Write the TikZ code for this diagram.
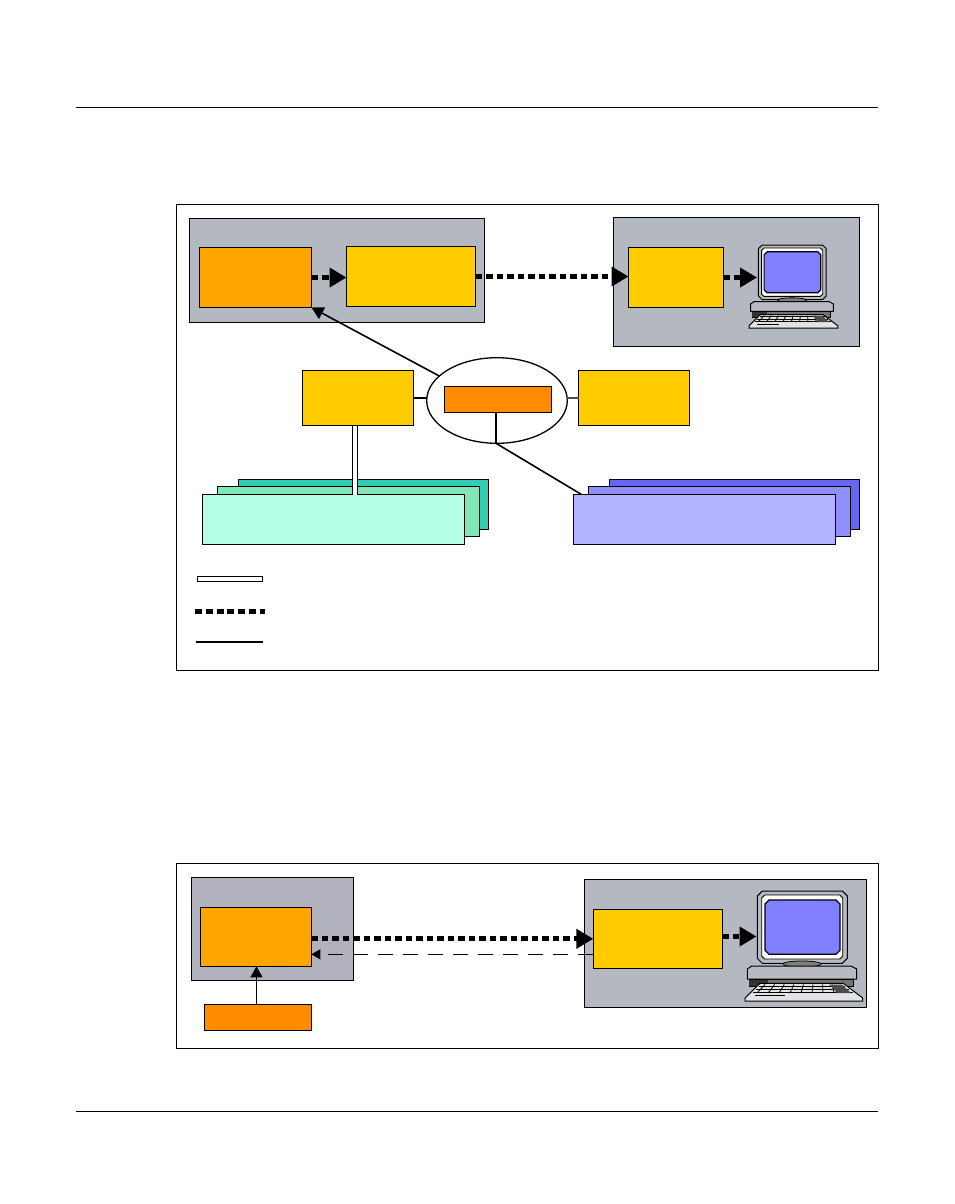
\documentclass[tikz,border=0pt]{standalone}
\usetikzlibrary{arrows.meta,shapes.geometric}
\definecolor{hostgray}{RGB}{180,184,192}
\definecolor{hostgraytwo}{RGB}{178,178,190}
\definecolor{amberfill}{RGB}{255,165,0}
\definecolor{goldfill}{RGB}{255,204,0}
\definecolor{darkorange}{RGB}{255,140,0}
\definecolor{tealback}{RGB}{51,204,181}
\definecolor{tealmid}{RGB}{128,232,184}
\definecolor{tealfront}{RGB}{179,255,230}
\definecolor{blueback}{RGB}{102,102,240}
\definecolor{bluemid}{RGB}{143,143,250}
\definecolor{bluefront}{RGB}{179,179,255}
\definecolor{screenblue}{RGB}{128,128,255}
\definecolor{casegray}{RGB}{184,186,194}
\tikzset{
	blockbox/.style={draw=black, rectangle, anchor=north west, inner sep=0pt, outer sep=0pt, line width=1pt},
	sized/.style 2 args={minimum width=#1pt, minimum height=#2pt},
	streamline/.style={line width=5pt, dash pattern=on 6.5pt off 4pt, -{Triangle[length=17pt, width=19pt]}},
	legendstream/.style={line width=5pt, dash pattern=on 7pt off 3.8pt},
	ctrlline/.style={line width=1.6pt},
	pics/desktopmachine/.style={code={
		\draw[fill=casegray, line width=1pt] (17.3,0) -- (97.3,0) -- (102.3,5) -- (102.3,67.3) -- (97.3,72.3) -- (17.3,72.3) -- (12.3,67.3) -- (12.3,5) -- cycle;
		\draw[fill=white, line width=0.9pt] (19.7,4) -- (94.7,4) -- (97.7,7) -- (97.7,65) -- (94.7,68) -- (19.7,68) -- (16.7,65) -- (16.7,7) -- cycle;
		\draw[fill=screenblue, line width=1.2pt] (24,9) -- (91,9) -- (95,13) -- (95,59.3) -- (91,63.3) -- (24,63.3) -- (20,59.3) -- (20,13) -- cycle;
		\draw[fill=gray, line width=0.8pt] (57,73) ellipse (19 and 3);
		\draw[fill=casegray, line width=1pt] (6.7,75) -- (106,75) -- (111.7,78) -- (111.7,88) -- (2.3,88) -- (2.3,78) -- cycle;
		\draw[fill=black!55, line width=0.9pt] (4.3,88) rectangle (108.3,95.7);
		\fill[black!80] (4.3,89) rectangle (23.3,94.7);
		\draw[fill=casegray!40, line width=1pt] (15,92.3) -- (98.3,92.3) -- (117.7,107) -- (117.7,110) -- (0,110) -- (0,107) -- cycle;
		\foreach \r/\a/\b in {95/14/100, 98/11/104, 101/8/108}
			\draw[line width=0.8pt] (\a,\r) -- (\b,\r);
		\foreach \k in {0,...,7}
			\draw[line width=0.8pt] ({20+\k*9.6},93.5) -- ({12+\k*11},102);
		\fill[black!70] (84,93.5) -- (97,93.5) -- (106,102) -- (92,102) -- cycle;
		\draw[line width=1pt] (10,104.7) -- (40,104.7);
	}}
}
\begin{document}
\begin{tikzpicture}[x=1pt, y=-1pt]
	\useasboundingbox (0,0) rectangle (954,1204);
	\draw[line width=0.8pt] (76,107.5) -- (878,107.5);
	\draw[line width=0.8pt] (76,1111.5) -- (878,1111.5);

	\node[blockbox, sized={702}{465.5}] (upperframe) at (176.5,204.5) {};
	\node[blockbox, sized={702}{185}] (lowerframe) at (176.5,863.5) {};

	\node[blockbox, fill=hostgray, sized={295}{104}] (srchost) at (189.5,218.5) {};
	\node[blockbox, fill=amberfill, sized={112}{60}] (srcbox) at (199.5,247.5) {};
	\node[blockbox, fill=goldfill, sized={129}{60}] (convbox) at (346.5,246.5) {};
	\node[blockbox, fill=hostgray, sized={246}{129}] (viewhost) at (613.5,217.5) {};
	\node[blockbox, fill=goldfill, sized={95}{60}] (viewbox) at (628.5,247.5) {};
	\pic[scale=0.755] at (749,245) {desktopmachine};
	\coordinate (viewtip) at (757,277.5);

	\draw[streamline] (srcbox.east) -- (srcbox.east -| convbox.west);
	\draw[streamline] (convbox.east) -- (convbox.east -| viewbox.west);
	\draw[streamline] (viewbox.east) -- (viewtip);

	\foreach \nm/\xp/\yp/\bw/\cl in {tback/238.5/479.5/250/tealback, tmid/217.5/486.5/262/tealmid, tfront/202.5/494.5/262/tealfront, bback/609.5/479.5/250/blueback, bmid/588.5/486.5/262/bluemid, bfront/573.5/494.5/262/bluefront}
		\node[blockbox, fill=\cl, sized={\bw}{50}] (\nm) at (\xp,\yp) {};

	\node[blockbox, fill=goldfill, sized={111}{55}] (cfgleft) at (302.5,370.5) {};
	\node[blockbox, fill=goldfill, sized={111}{55}] (cfgright) at (578.5,370.5) {};
	\node[draw=black, ellipse, line width=1.3pt, inner sep=0pt, outer sep=0pt, minimum width=140.6pt, minimum height=85.6pt] (ring) at (497,400.5) {};
	\node[blockbox, fill=darkorange, sized={107.5}{26}] (hub) at (444.3,386.3) {};

	\draw[ctrlline] (cfgleft.east) -- (cfgleft.east -| ring.west);
	\draw[line width=1.3pt, black!70] (cfgright.west) -- (cfgright.west -| ring.east);
	\draw[line width=2pt] ([xshift=-1pt]ring.south) -- ([xshift=-1pt]ring.south |- hub.south);
	\draw[ctrlline, -{Triangle[length=12pt, width=13pt]}] (ring.157) -- (srcbox.south east);
	\draw[ctrlline] ([xshift=-1pt]ring.south) -- ([xshift=8pt]bfront.north west);
	\draw[line width=1pt, double=white, double distance=3.5pt] ([xshift=-2.8pt]cfgleft.south) -- ([xshift=-2.8pt]cfgleft.south |- tfront.north);

	\node[blockbox, fill=white, sized={65.5}{5.5}] (legendbar) at (197.3,576.3) {};
	\coordinate (legendstreama) at (195,611);
	\coordinate (legendstreamb) at (265,611);
	\coordinate (legendctrla) at (196,642);
	\coordinate (legendctrlb) at (263,642);
	\draw[legendstream] (legendstreama) -- (legendstreamb);
	\draw[line width=2pt] (legendctrla) -- (legendctrlb);

	\node[blockbox, fill=hostgraytwo, sized={162}{103}] (lowhost) at (191.3,877.3) {};
	\node[blockbox, fill=amberfill, sized={111}{59}] (lowsrc) at (200.3,907.3) {};
	\node[blockbox, fill=darkorange, sized={107}{26}] (lowfeed) at (204.3,1004.3) {};
	\node[blockbox, fill=hostgray, sized={282}{128}] (lowview) at (584.3,879.3) {};
	\node[blockbox, fill=goldfill, sized={129}{59}] (lowconv) at (593.3,909.3) {};
	\pic at (745,891) {desktopmachine};
	\coordinate (lowtip) at (756.5,936.5);
	\coordinate (returnstart) at ([yshift=-15.5pt]lowconv.west);

	\draw[streamline] (lowsrc.east |- lowconv.west) -- (lowconv.west);
	\draw[line width=0.9pt, dash pattern=on 15pt off 10pt, -{Triangle[length=9pt, width=10pt]}] (returnstart) -- (returnstart -| lowsrc.east);
	\draw[streamline] (lowconv.east |- lowtip) -- (lowtip);
	\draw[line width=1pt, -{Triangle[length=11pt, width=12pt]}] ([xshift=0.7pt]lowsrc.south |- lowfeed.north) -- ([xshift=0.7pt]lowsrc.south);
\end{tikzpicture}
\end{document}
